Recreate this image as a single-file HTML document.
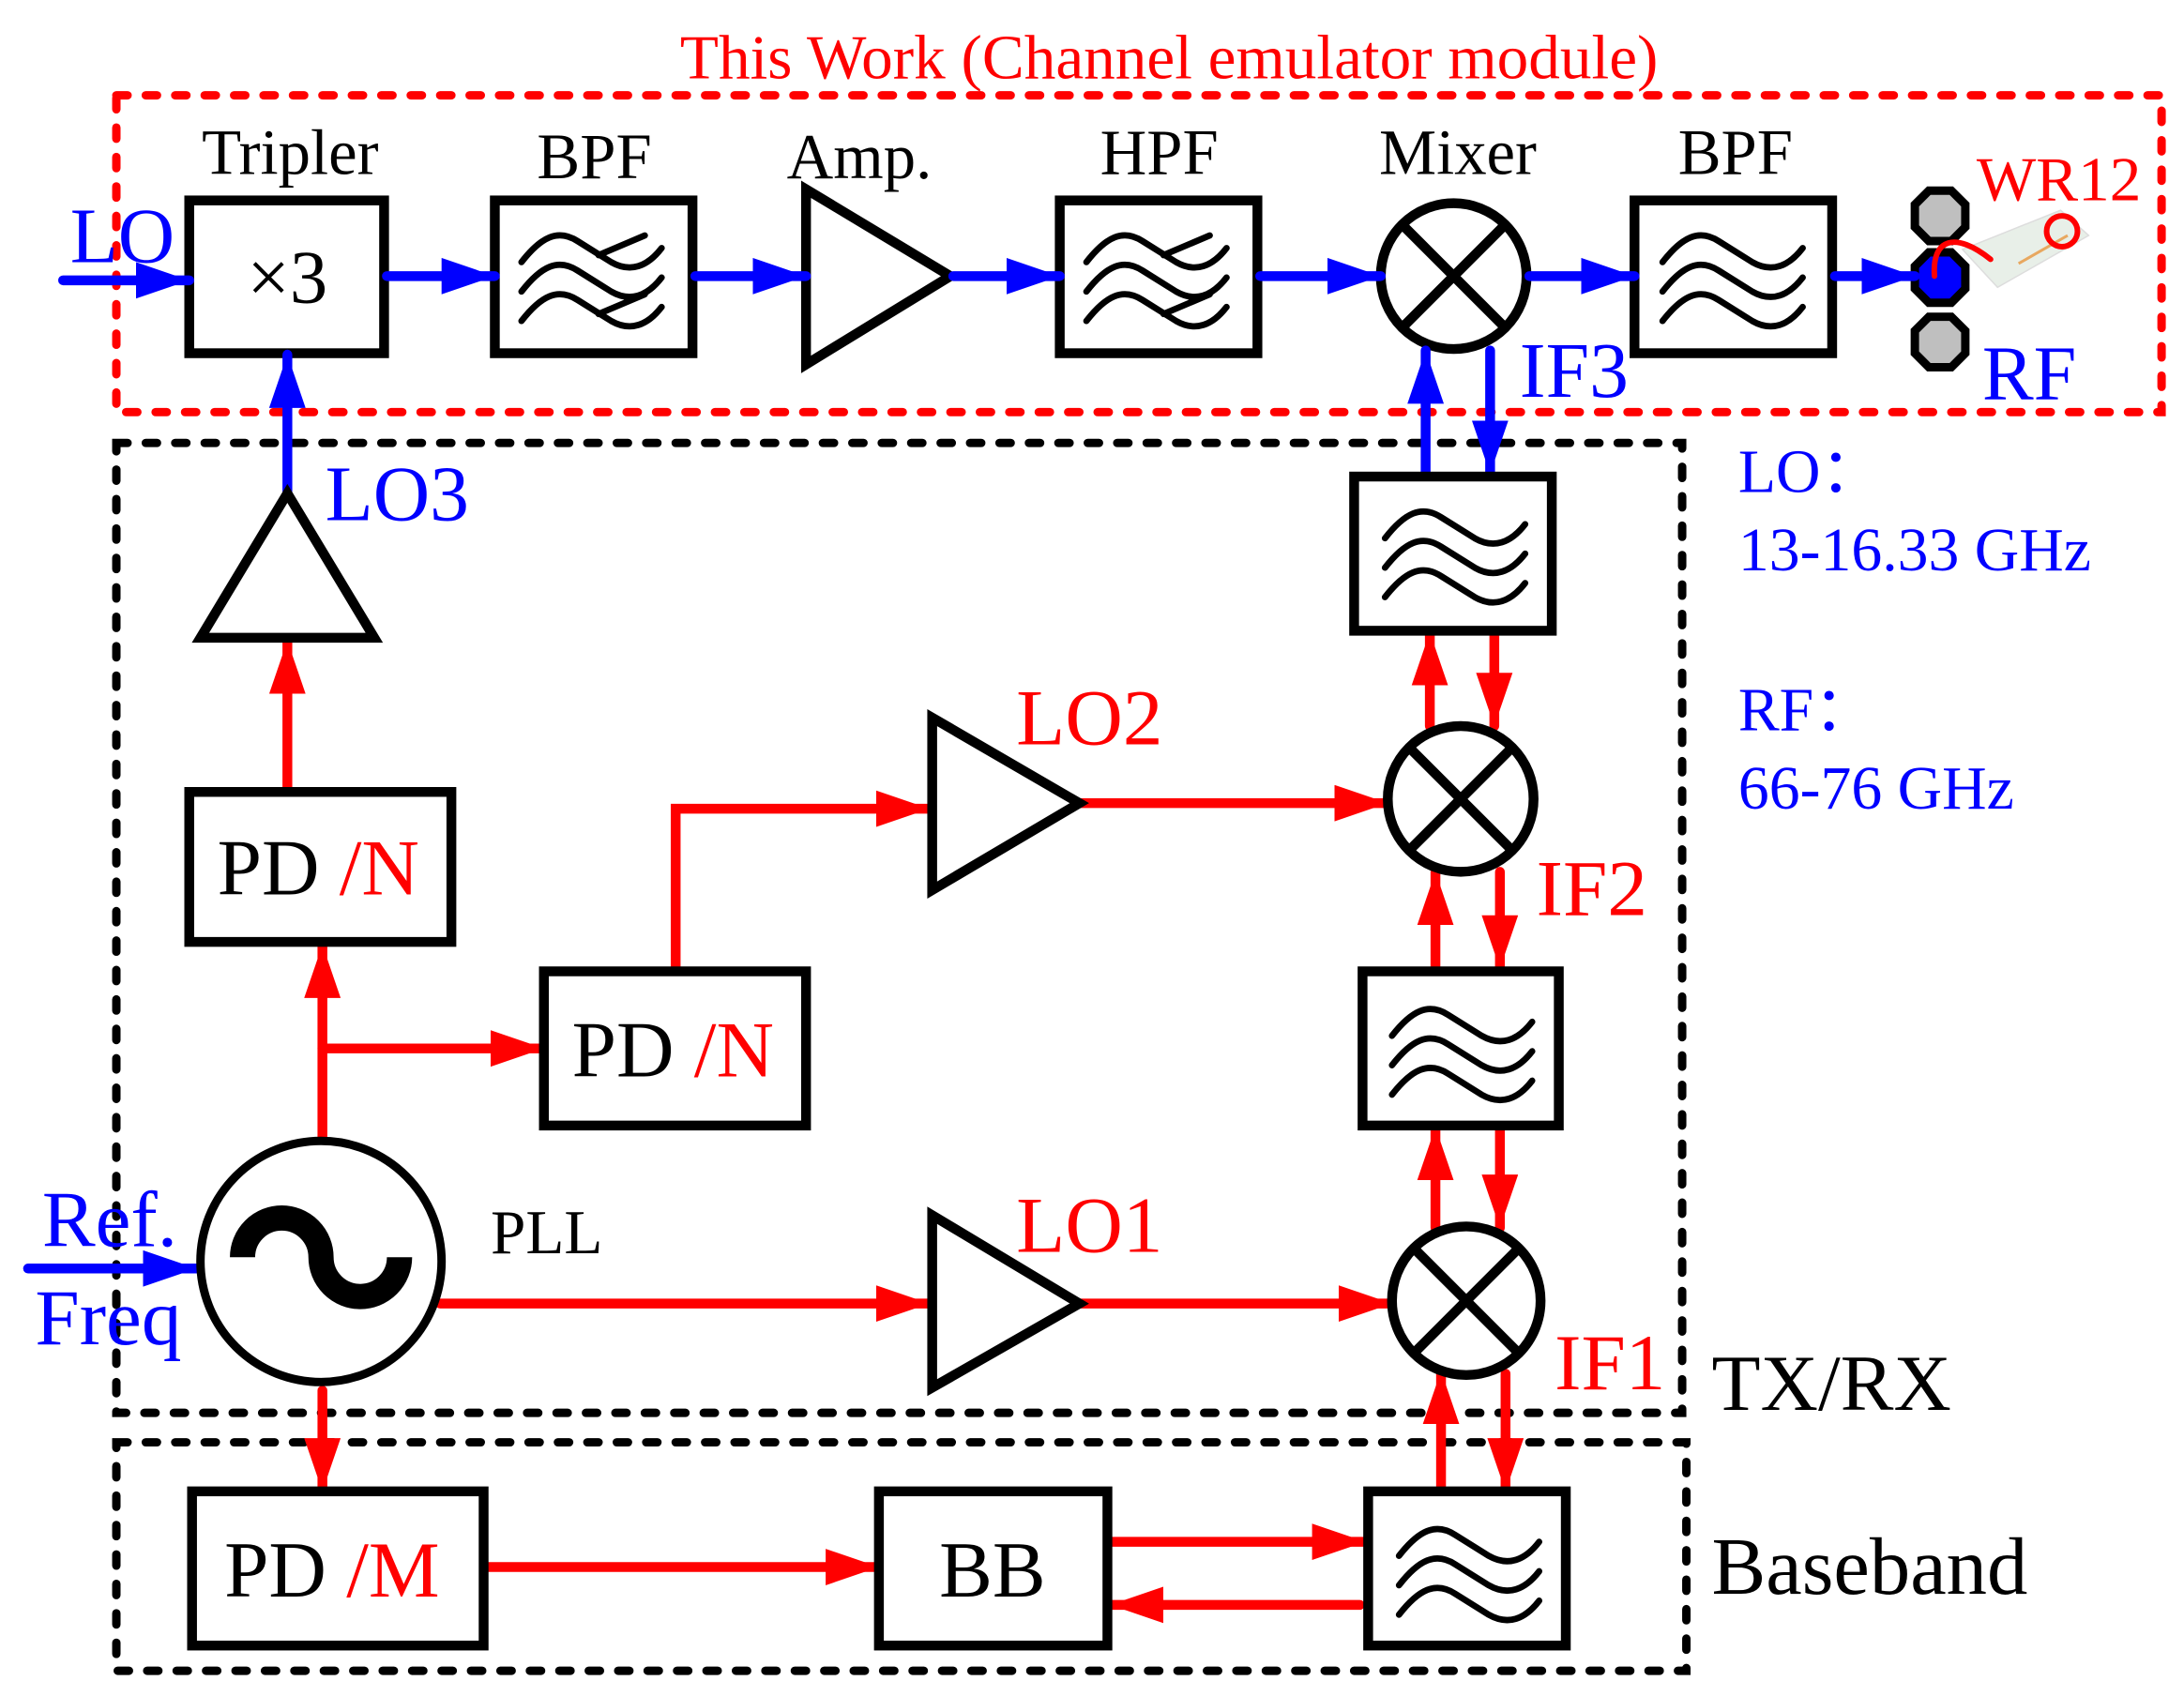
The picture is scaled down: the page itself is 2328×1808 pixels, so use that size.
<!DOCTYPE html>
<html><head><meta charset="utf-8"><style>html,body{margin:0;padding:0;background:#fff}svg{display:block}</style></head>
<body>
<svg width="2328" height="1808" viewBox="0 0 1558 1210" preserveAspectRatio="none" xmlns="http://www.w3.org/2000/svg" font-family="'Liberation Serif', serif">
<defs>
<marker id="ab" markerUnits="userSpaceOnUse" markerWidth="40" markerHeight="28" refX="38" refY="13" orient="auto"><path d="M0,0 L38,13 L0,26 Z" fill="#0000ff"/></marker>
<marker id="ar" markerUnits="userSpaceOnUse" markerWidth="40" markerHeight="28" refX="38" refY="13" orient="auto"><path d="M0,0 L38,13 L0,26 Z" fill="#ff0000"/></marker>
<g id="w">
<path d="M0,12 C14,-6 26,-12 40,-3 L64,12 C78,20 90,15 100,2" fill="none" stroke="#000" stroke-width="4.5" stroke-linecap="round"/>
</g>
<g id="f3"><use href="#w" y="-21"/><use href="#w"/><use href="#w" y="21"/></g>
<g id="fx"><use href="#f3"/><path d="M57,-14 L90,-28 M57,28 L90,14" stroke="#000" stroke-width="4.5" stroke-linecap="round" transform="translate(-2,0)"/></g>
</defs>

<g fill="none" stroke-width="6" stroke-linecap="round" stroke-dasharray="8 13">
<rect x="83" y="68" width="1459" height="226" stroke="#ff0000"/>
<rect x="83" y="316" width="1117" height="692" stroke="#000"/>
<rect x="83" y="1029" width="1120" height="163" stroke="#000"/>
</g>

<text x="834" y="56" font-size="45" fill="#ff0000" text-anchor="middle">This Work (Channel emulator module)</text>

<g fill="#fff" stroke="#000" stroke-width="7">
<rect x="135" y="143" width="139" height="109"/>
<rect x="353" y="143" width="141" height="109"/>
<rect x="756" y="143" width="141" height="109"/>
<rect x="1166" y="143" width="141" height="109"/>
<path d="M575,135 L575,260 L678,197 Z"/>
<circle cx="1037" cy="197" r="52"/>
<path d="M1000,160 L1074,234 M1074,160 L1000,234"/>
</g>
<use href="#fx" x="372" y="196"/>
<use href="#fx" x="775" y="196"/>
<use href="#f3" x="1186" y="196"/>
<text x="205" y="216" font-size="54" text-anchor="middle">×3</text>
<g font-size="46" text-anchor="middle">
<text x="207" y="124">Tripler</text>
<text x="424" y="127">BPF</text>
<text x="613" y="127">Amp.</text>
<text x="827" y="124">HPF</text>
<text x="1040" y="124">Mixer</text>
<text x="1238" y="124">BPF</text>
</g>

<g stroke="#000" stroke-width="6">
<polygon points="1376,136 1392,136 1402,146 1402,162 1392,172 1376,172 1366,162 1366,146" fill="#bfbfbf"/>
<polygon points="1376,180 1392,180 1402,190 1402,206 1392,216 1376,216 1366,206 1366,190" fill="#0000ff"/>
<polygon points="1376,226 1392,226 1402,236 1402,252 1392,262 1376,262 1366,252 1366,236" fill="#bfbfbf"/>
</g>
<polygon points="1400,178 1470,150 1490,168 1425,205" fill="#e8efe8" stroke="#ddd"/>
<path d="M1440,188 L1475,168" stroke="#e8a860" stroke-width="2"/>
<path d="M1380,197 C1378,170 1395,165 1420,185" fill="none" stroke="#ff0000" stroke-width="4" stroke-linecap="round"/>
<circle cx="1471" cy="165" r="11" fill="none" stroke="#ff0000" stroke-width="4"/>
<text x="1410" y="143" font-size="45" fill="#ff0000">WR12</text>
<text x="1414" y="285" font-size="55" fill="#0000ff">RF</text>

<g stroke="#0000ff" stroke-width="7" stroke-linecap="round" fill="none" marker-end="url(#ab)">
<path d="M45,200 L135,200"/>
<path d="M276,197 L353,197"/>
<path d="M496,197 L575,197"/>
<path d="M680,197 L756,197"/>
<path d="M899,197 L985,197"/>
<path d="M1091,197 L1166,197"/>
<path d="M1309,197 L1366,197"/>
<path d="M205,352 L205,253"/>
<path d="M1017,338 L1017,250"/>
<path d="M1063,250 L1063,338"/>
<path d="M20,905 L140,905"/>
</g>
<text x="50" y="187" font-size="56" fill="#0000ff">LO</text>
<text x="232" y="371" font-size="56" fill="#0000ff">LO3</text>
<text x="1084" y="283" font-size="56" fill="#0000ff">IF3</text>
<text x="30" y="889" font-size="57" fill="#0000ff">Ref.</text>
<text x="25" y="959" font-size="57" fill="#0000ff">Freq</text>
<g font-size="44" fill="#0000ff">
<text x="1240" y="351">LO：</text>
<text x="1240" y="407">13-16.33 GHz</text>
<text x="1240" y="521">RF：</text>
<text x="1240" y="577">66-76 GHz</text>
</g>

<g stroke="#ff0000" stroke-width="7" stroke-linecap="round" fill="none">
<path d="M205,565 L205,457" marker-end="url(#ar)"/>
<path d="M230,812 L230,674" marker-end="url(#ar)"/>
<path d="M230,748 L388,748" marker-end="url(#ar)"/>
<path d="M482,693 L482,577 L663,577" marker-end="url(#ar)"/>
<path d="M770,573 L990,573" marker-end="url(#ar)"/>
<path d="M314,930 L663,930" marker-end="url(#ar)"/>
<path d="M770,930 L993,930" marker-end="url(#ar)"/>
<path d="M230,992 L230,1064" marker-end="url(#ar)"/>
<path d="M346,1118 L627,1118" marker-end="url(#ar)"/>
<path d="M792,1100 L974,1100" marker-end="url(#ar)"/>
<path d="M970,1145 L792,1145" marker-end="url(#ar)"/>
<path d="M1020,518 L1020,451" marker-end="url(#ar)"/>
<path d="M1066,451 L1066,518" marker-end="url(#ar)"/>
<path d="M1024,691 L1024,622" marker-end="url(#ar)"/>
<path d="M1070,622 L1070,691" marker-end="url(#ar)"/>
<path d="M1024,876 L1024,804" marker-end="url(#ar)"/>
<path d="M1070,804 L1070,876" marker-end="url(#ar)"/>
<path d="M1028,1064 L1028,978" marker-end="url(#ar)"/>
<path d="M1074,980 L1074,1064" marker-end="url(#ar)"/>
</g>

<g fill="#fff" stroke="#000" stroke-width="7">
<path d="M143,455 L267,455 L205,352 Z"/>
<rect x="135" y="565" width="187" height="107"/>
<rect x="388" y="693" width="187" height="110"/>
<rect x="137" y="1064" width="208" height="110"/>
<rect x="627" y="1064" width="163" height="110"/>
<rect x="966" y="340" width="141" height="110"/>
<rect x="972" y="693" width="140" height="110"/>
<rect x="976" y="1064" width="141" height="110"/>
<path d="M665,512 L665,635 L770,573 Z"/>
<path d="M665,867 L665,990 L770,930 Z"/>
<circle cx="1042" cy="570" r="52"/>
<circle cx="1046" cy="928" r="53"/>
<circle cx="229" cy="900" r="86" stroke-width="6"/>
<path d="M1005,533 L1079,607 M1079,533 L1005,607 M1009,891 L1083,965 M1083,891 L1009,965"/>
</g>
<path d="M173,897 A28,28 0 0 1 229,897 A28,28 0 0 0 285,897" fill="none" stroke="#000" stroke-width="18" stroke-linecap="butt"/>
<use href="#f3" x="988" y="393"/>
<use href="#f3" x="993" y="748"/>
<use href="#f3" x="998" y="1119"/>

<g font-size="57">
<text x="155" y="638">PD <tspan fill="#ff0000">/N</tspan></text>
<text x="408" y="768">PD <tspan fill="#ff0000">/N</tspan></text>
<text x="160" y="1139">PD <tspan fill="#ff0000">/M</tspan></text>
<text x="670" y="1139">BB</text>
</g>
<text x="350" y="894" font-size="45">PLL</text>
<g font-size="57" fill="#ff0000">
<text x="725" y="531">LO2</text>
<text x="725" y="893">LO1</text>
<text x="1096" y="653">IF2</text>
<text x="1109" y="991">IF1</text>
</g>
<text x="1221" y="1006" font-size="57">TX/RX</text>
<text x="1221" y="1137" font-size="58">Baseband</text>
</svg>
</body></html>
